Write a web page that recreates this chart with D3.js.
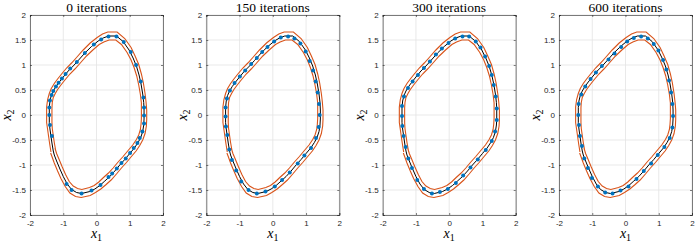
<!DOCTYPE html>
<html>
<head>
<meta charset="utf-8">
<script src="https://cdn.jsdelivr.net/npm/d3@7"></script>
<style>
  html, body { margin: 0; padding: 0; background: #fff; }
  svg { display: block; }
</style>
</head>
<body>
<svg id="chart" width="696" height="242"></svg>
<script>
// ---------------- DATA ----------------
const titles = ["0 iterations", "150 iterations", "300 iterations", "600 iterations"];
const xTicks = [-2, -1, 0, 1, 2];
const yTicks = [-2, -1.5, -1, -0.5, 0, 0.5, 1, 1.5, 2];
const xTickLabels = ["-2", "-1", "0", "1", "2"];
const yTickLabels = ["-2", "-1.5", "-1", "-0.5", "0", "0.5", "1", "1.5", "2"];

// reference trajectory (black line)
const trajectory = [
[-1.30,-0.72],[-1.34,-0.56],[-1.37,-0.42],[-1.40,-0.28],[-1.42,-0.15],[-1.42,0],[-1.42,0.15],[-1.40,0.28],[-1.36,0.39],[-1.30,0.48],[-1.22,0.57],[-1.12,0.66],[-1.0,0.76],[-0.85,0.88],[-0.7,0.98],[-0.55,1.09],[-0.35,1.24],[-0.15,1.37],[0.05,1.48],[0.2,1.54],[0.36,1.58],[0.6,1.58],[0.8,1.47],[0.98,1.3],[1.1,1.14],[1.2,0.98],[1.28,0.8],[1.34,0.62],[1.39,0.42],[1.42,0.25],[1.43,0.1],[1.43,-0.08],[1.42,-0.2],[1.39,-0.33],[1.33,-0.45],[1.25,-0.55],[1.14,-0.66],[1.0,-0.77],[0.85,-0.89],[0.7,-1.0],[0.55,-1.12],[0.4,-1.23],[0.25,-1.32],[0.1,-1.41],[-0.05,-1.48],[-0.2,-1.53],[-0.45,-1.57],[-0.6,-1.55],[-0.75,-1.49],[-0.88,-1.38],[-1.0,-1.23],[-1.1,-1.08],[-1.2,-0.92],[-1.27,-0.8],[-1.30,-0.72]
];
// tube bounds (orange)
const outerBound = [
[-1.37,-0.74],[-1.41,-0.57],[-1.44,-0.43],[-1.47,-0.29],[-1.50,-0.15],[-1.50,0],[-1.50,0.16],[-1.47,0.31],[-1.42,0.43],[-1.36,0.53],[-1.27,0.63],[-1.17,0.72],[-1.05,0.82],[-0.9,0.94],[-0.75,1.04],[-0.6,1.15],[-0.4,1.30],[-0.19,1.44],[0.02,1.55],[0.18,1.62],[0.34,1.66],[0.62,1.66],[0.85,1.53],[1.04,1.35],[1.16,1.18],[1.27,1.01],[1.35,0.82],[1.41,0.64],[1.46,0.43],[1.49,0.26],[1.51,0.1],[1.51,-0.09],[1.50,-0.22],[1.46,-0.37],[1.39,-0.50],[1.30,-0.61],[1.19,-0.72],[1.05,-0.83],[0.9,-0.95],[0.75,-1.06],[0.6,-1.18],[0.44,-1.30],[0.29,-1.39],[0.13,-1.48],[-0.03,-1.55],[-0.19,-1.61],[-0.46,-1.65],[-0.63,-1.63],[-0.80,-1.56],[-0.94,-1.43],[-1.07,-1.27],[-1.17,-1.12],[-1.27,-0.96],[-1.34,-0.83],[-1.38,-0.76]
];
const innerBound = [
[-1.23,-0.70],[-1.27,-0.55],[-1.30,-0.41],[-1.33,-0.27],[-1.34,-0.15],[-1.34,0],[-1.34,0.14],[-1.33,0.25],[-1.30,0.35],[-1.24,0.43],[-1.17,0.51],[-1.07,0.60],[-0.95,0.70],[-0.80,0.82],[-0.65,0.92],[-0.50,1.03],[-0.30,1.18],[-0.11,1.30],[0.08,1.41],[0.22,1.46],[0.38,1.50],[0.58,1.50],[0.75,1.41],[0.92,1.25],[1.04,1.10],[1.13,0.95],[1.21,0.78],[1.27,0.60],[1.32,0.41],[1.35,0.24],[1.35,0.1],[1.35,-0.07],[1.34,-0.18],[1.32,-0.29],[1.27,-0.40],[1.20,-0.49],[1.09,-0.60],[0.95,-0.71],[0.8,-0.83],[0.65,-0.94],[0.5,-1.06],[0.36,-1.16],[0.21,-1.25],[0.07,-1.34],[-0.07,-1.41],[-0.21,-1.45],[-0.44,-1.49],[-0.57,-1.47],[-0.70,-1.42],[-0.82,-1.33],[-0.93,-1.19],[-1.03,-1.04],[-1.13,-0.88],[-1.20,-0.77],[-1.25,-0.66]
];

// sample points (blue) per panel
const points0 = [
[0.36,1.57],[0.6,1.57],[0.82,1.46],[1.03,1.26],[1.19,1.0],[1.33,0.67],[1.41,0.35],[1.43,0.15],[1.43,-0.01],[1.43,-0.17],[1.38,-0.33],[1.30,-0.46],[1.23,-0.56],[1.12,-0.66],[1.01,-0.76],[0.88,-0.87],[0.75,-0.96],[0.61,-1.07],[0.47,-1.17],[0.36,-1.24],[0.12,-1.40],[-0.15,-1.51],[-0.45,-1.57],[-0.75,-1.5],[-0.9,-1.38],[-1.34,-0.42],[-1.40,-0.2],[-1.42,0],[-1.42,0.15],[-1.40,0.29],[-1.35,0.40],[-1.30,0.48],[-1.22,0.57],[-1.14,0.645],[-1.04,0.73],[-0.93,0.82],[-0.79,0.93],[-0.59,1.06],[-0.35,1.24],[-0.08,1.41],[0.14,1.51]
];
const points150 = [
[0.46,1.57],[0.65,1.53],[0.83,1.43],[0.99,1.27],[1.11,1.08],[1.21,0.89],[1.29,0.67],[1.35,0.45],[1.39,0.22],[1.41,0],[1.38,-0.24],[1.30,-0.46],[1.15,-0.66],[0.95,-0.81],[0.75,-0.97],[0.51,-1.15],[0.28,-1.30],[0.06,-1.43],[-0.22,-1.53],[-0.48,-1.57],[-0.73,-1.5],[-0.95,-1.33],[-1.10,-1.11],[-1.23,-0.90],[-1.31,-0.69],[-1.37,-0.40],[-1.41,-0.23],[-1.42,-0.03],[-1.42,0.15],[-1.38,0.33],[-1.29,0.49],[-1.15,0.64],[-0.99,0.77],[-0.83,0.89],[-0.65,1.02],[-0.48,1.14],[-0.32,1.26],[-0.16,1.36],[0.04,1.47],[0.24,1.55]
];
const points300 = [
[0.40,1.57],[0.6,1.57],[0.8,1.47],[0.94,1.35],[1.08,1.17],[1.20,0.98],[1.28,0.80],[1.34,0.60],[1.40,0.37],[1.43,0.13],[1.43,-0.1],[1.38,-0.33],[1.28,-0.52],[1.1,-0.70],[0.86,-0.89],[0.64,-1.05],[0.42,-1.21],[0.2,-1.36],[-0.04,-1.48],[-0.28,-1.54],[-0.52,-1.57],[-0.76,-1.48],[-0.96,-1.30],[-1.12,-1.06],[-1.23,-0.87],[-1.31,-0.64],[-1.37,-0.42],[-1.41,-0.22],[-1.42,-0.02],[-1.42,0.18],[-1.36,0.37],[-1.24,0.54],[-1.1,0.67],[-0.94,0.80],[-0.76,0.94],[-0.58,1.07],[-0.40,1.21],[-0.22,1.33],[-0.02,1.44],[0.18,1.53]
];
const points600 = [
[0.47,1.57],[0.67,1.53],[0.85,1.42],[0.99,1.29],[1.13,1.10],[1.23,0.91],[1.31,0.69],[1.37,0.45],[1.41,0.22],[1.43,-0.02],[1.41,-0.25],[1.33,-0.46],[1.17,-0.64],[0.97,-0.80],[0.77,-0.97],[0.55,-1.12],[0.33,-1.28],[0.09,-1.43],[-0.15,-1.51],[-0.39,-1.57],[-0.61,-1.55],[-0.83,-1.43],[-1.01,-1.26],[-1.13,-1.06],[-1.24,-0.87],[-1.31,-0.62],[-1.37,-0.42],[-1.40,-0.2],[-1.42,0],[-1.41,0.22],[-1.33,0.41],[-1.21,0.57],[-1.05,0.72],[-0.89,0.85],[-0.71,0.98],[-0.51,1.11],[-0.33,1.23],[-0.13,1.36],[0.05,1.47],[0.25,1.54]
];
const panelPoints = [points0, points150, points300, points600];

// ---------------- LAYOUT ----------------
const panelLefts = [30, 206.3, 382.7, 559];
const plotW = 133, plotTop = 15, plotBottom = 215;
const blue = "#0072BD", orange = "#D95319";
const axisColor = "#262626";

const svg = d3.select("#chart");

titles.forEach((title, i) => {
  const x0 = panelLefts[i];
  const x = d3.scaleLinear().domain([-2, 2]).range([x0, x0 + plotW]);
  const y = d3.scaleLinear().domain([-2, 2]).range([plotBottom, plotTop]);
  const g = svg.append("g");

  // grid
  g.append("g").selectAll("line").data(xTicks).join("line")
    .attr("x1", d => x(d)).attr("x2", d => x(d))
    .attr("y1", plotTop).attr("y2", plotBottom)
    .attr("stroke", "#e3e3e3").attr("stroke-width", 0.8);
  g.append("g").selectAll("line").data(yTicks).join("line")
    .attr("x1", x0).attr("x2", x0 + plotW)
    .attr("y1", d => y(d)).attr("y2", d => y(d))
    .attr("stroke", "#e3e3e3").attr("stroke-width", 0.8);

  // axes via d3
  const tl = 2;
  const bottomAxis = d3.axisBottom(x).tickValues(xTicks).tickSize(-tl).tickPadding(5)
    .tickFormat((d, k) => xTickLabels[k]);
  const leftAxis = d3.axisLeft(y).tickValues(yTicks).tickSize(-tl).tickPadding(4)
    .tickFormat((d, k) => yTickLabels[k]);
  const topAxis = d3.axisTop(x).tickValues(xTicks).tickSize(-tl).tickFormat("");
  const rightAxis = d3.axisRight(y).tickValues(yTicks).tickSize(-tl).tickFormat("");

  const styleAxis = sel => {
    sel.selectAll("path").attr("stroke", axisColor).attr("stroke-width", 0.6);
    sel.selectAll("line").attr("stroke", axisColor).attr("stroke-width", 0.6);
    sel.selectAll("text").attr("fill", axisColor)
      .style("font-family", "'Liberation Sans', Arial, sans-serif").style("font-size", "8px");
  };
  g.append("g").attr("transform", `translate(0,${plotBottom})`).call(bottomAxis).call(styleAxis);
  g.append("g").attr("transform", `translate(${x0},0)`).call(leftAxis).call(styleAxis);
  g.append("g").attr("transform", `translate(0,${plotTop})`).call(topAxis).call(styleAxis);
  g.append("g").attr("transform", `translate(${x0 + plotW},0)`).call(rightAxis).call(styleAxis);
  g.selectAll(".domain").attr("fill", "none");

  const line = d3.line().x(d => x(d[0])).y(d => y(d[1]));

  g.append("path").datum(outerBound).attr("d", line)
    .attr("fill", "none").attr("stroke", orange).attr("stroke-width", 1.1);
  g.append("path").datum(innerBound).attr("d", line)
    .attr("fill", "none").attr("stroke", orange).attr("stroke-width", 1.1);
  g.append("path").datum(trajectory).attr("d", line)
    .attr("fill", "none").attr("stroke", "#000").attr("stroke-width", 1);

  g.append("g").selectAll("circle").data(panelPoints[i]).join("circle")
    .attr("cx", d => x(d[0])).attr("cy", d => y(d[1])).attr("r", 2)
    .attr("fill", blue);

  // title
  g.append("text")
    .attr("x", x0 + plotW / 2).attr("y", 12)
    .attr("text-anchor", "middle")
    .style("font-family", "'Liberation Serif', 'Times New Roman', serif")
    .style("font-size", "13.5px")
    .attr("fill", "#000")
    .text(title);

  // x label
  const xl = g.append("text")
    .attr("x", x0 + plotW / 2).attr("y", 238)
    .attr("text-anchor", "middle")
    .style("font-family", "'Liberation Serif', 'Times New Roman', serif")
    .style("font-size", "14px").style("font-style", "italic")
    .attr("fill", "#000");
  xl.append("tspan").text("x");
  xl.append("tspan").attr("dy", 3).style("font-size", "10px").style("font-style", "normal").text("1");

  // y label
  const yl = g.append("text")
    .attr("transform", `translate(${x0 - 19},${(plotTop + plotBottom) / 2}) rotate(-90)`)
    .attr("text-anchor", "middle")
    .style("font-family", "'Liberation Serif', 'Times New Roman', serif")
    .style("font-size", "14px").style("font-style", "italic")
    .attr("fill", "#000");
  yl.append("tspan").text("x");
  yl.append("tspan").attr("dy", 3).style("font-size", "10px").style("font-style", "normal").text("2");
});
</script>
</body>
</html>
